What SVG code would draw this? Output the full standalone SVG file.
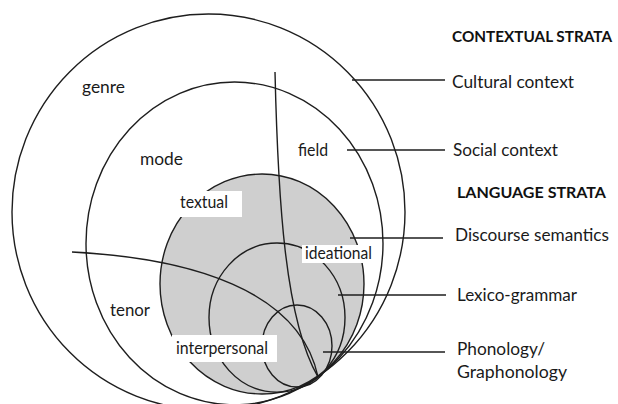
<svg xmlns="http://www.w3.org/2000/svg" width="618" height="404" viewBox="0 0 618 404">
<style>
.c{fill:none;stroke:#1e1e1e;stroke-width:1.4}
.l{fill:none;stroke:#1e1e1e;stroke-width:1.4}
.t{font-family:Lato,"Open Sans",sans-serif;font-size:17px;fill:#1a1a1a}
.b{font-family:Lato,"Open Sans",sans-serif;font-size:16px;font-weight:bold;fill:#111}
.box{fill:#fff}
</style>
<rect width="618" height="404" fill="#fff"/>
<g id="cultural"><ellipse class="c" cx="208.5" cy="212" rx="196.5" ry="198"/></g>
<g id="social"><ellipse class="c" cx="234.5" cy="243.4" rx="148.5" ry="161.4"/></g>
<g id="discourse"><ellipse cx="262" cy="284" rx="102" ry="110" fill="#cfcfcf" stroke="#1e1e1e" stroke-width="1.4"/></g>
<g id="lexicogrammar"><ellipse class="c" cx="277" cy="317.6" rx="68" ry="74.6"/></g>
<g id="phonology"><ellipse class="c" cx="297" cy="346" rx="35" ry="41"/></g>
<g id="connectors">
<path class="l" d="M275,72 C278,200 285,320 318,377"/>
<path class="l" d="M72,252 C190,258 300,290 318,377"/>
<line class="l" x1="352" y1="80" x2="445" y2="80"/>
<line class="l" x1="347" y1="150" x2="445" y2="150"/>
<line class="l" x1="350" y1="238" x2="443" y2="238"/>
<line class="l" x1="338" y1="295" x2="446" y2="295"/>
<line class="l" x1="323" y1="352" x2="445" y2="352"/>
</g>
<g id="labels">
<text class="t" x="82" y="93" textLength="43" lengthAdjust="spacingAndGlyphs">genre</text>
<text class="t" x="140" y="165" textLength="43" lengthAdjust="spacingAndGlyphs">mode</text>
<text class="t" x="298" y="156" textLength="30" lengthAdjust="spacingAndGlyphs">field</text>
<text class="t" x="110" y="316" textLength="40" lengthAdjust="spacingAndGlyphs">tenor</text>
<g id="textual"><rect class="box" x="175" y="191" width="67" height="26"/><text class="t" x="180" y="208" textLength="48" lengthAdjust="spacingAndGlyphs">textual</text></g>
<g id="ideational"><rect class="box" x="302" y="245" width="72" height="18"/><text class="t" x="305" y="259" textLength="67" lengthAdjust="spacingAndGlyphs">ideational</text></g>
<g id="interpersonal"><rect class="box" x="172" y="335" width="105" height="27"/><text class="t" x="176" y="354" textLength="92" lengthAdjust="spacingAndGlyphs">interpersonal</text></g>
</g>
<g id="strata">
<text class="b" x="452" y="42" textLength="160" lengthAdjust="spacingAndGlyphs">CONTEXTUAL STRATA</text>
<text class="t" x="452" y="88" textLength="122" lengthAdjust="spacingAndGlyphs">Cultural context</text>
<text class="t" x="453" y="156" textLength="105" lengthAdjust="spacingAndGlyphs">Social context</text>
<text class="b" x="457" y="198" textLength="149" lengthAdjust="spacingAndGlyphs">LANGUAGE STRATA</text>
<text class="t" x="455" y="241" textLength="154" lengthAdjust="spacingAndGlyphs">Discourse semantics</text>
<text class="t" x="457" y="301" textLength="120" lengthAdjust="spacingAndGlyphs">Lexico-grammar</text>
<text class="t" x="457" y="355" textLength="88" lengthAdjust="spacingAndGlyphs">Phonology/</text>
<text class="t" x="457" y="378" textLength="110" lengthAdjust="spacingAndGlyphs">Graphonology</text>
</g>
</svg>
